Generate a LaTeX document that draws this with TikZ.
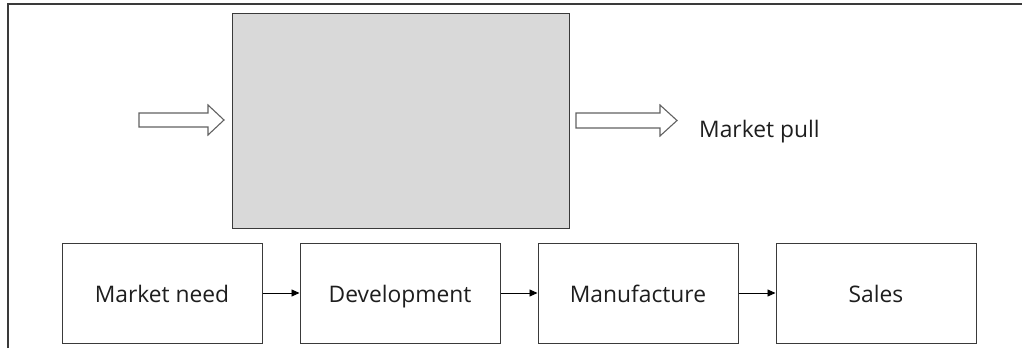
\documentclass[tikz,border=0pt]{standalone}
\usepackage{fontspec}
\setmainfont{Open Sans}
\usetikzlibrary{arrows.meta}
\definecolor{ink}{HTML}{1E1E1E}
\definecolor{edge}{HTML}{3A3A3A}
\definecolor{panel}{HTML}{D9D9D9}
\begin{document}
\begin{tikzpicture}[x=1pt,y=-1pt,
  stagebox/.style={draw=edge,line width=1pt,fill=white,minimum width=200pt,minimum height=100pt,
    inner sep=0pt,text height=22pt,text depth=4pt,text=ink,font=\fontsize{22.8}{26}\selectfont},
  flow/.style={draw=black,line width=0.9pt,-{Triangle[length=8pt,width=7pt]}},
  blockarrow/.style={draw=edge!80,line width=1.1pt,fill=white,line join=miter}]
\useasboundingbox (0,0) rectangle (1022,348);
% frame lines
\draw[edge,line width=1.3pt] (8,348) -- (8,4) -- (1022,4);
% central shaded panel
\node[draw=edge,line width=1pt,fill=panel,minimum width=337pt,minimum height=215.5pt,inner sep=0pt,anchor=north west]
  (panel) at (232,12.5) {};
% block arrows into and out of the panel
\draw[blockarrow] (139,113) -- (208,113) -- (208,105) -- (224,120) -- (208,135) -- (208,127) -- (139,127) -- cycle;
\draw[blockarrow] (576,113) -- (660,113) -- (660,105) -- (677,120.5) -- (660,136) -- (660,128) -- (576,128) -- cycle;
\node[anchor=base west,inner sep=0pt,text=ink,font=\fontsize{22.8}{26}\selectfont] (pull) at (699,137) {Market pull};
% process chain
\node[stagebox] (need) at (162,293) {Market need};
\node[stagebox] (dev)  at (400,293) {Development};
\node[stagebox] (man)  at (638,293) {Manufacture};
\node[stagebox] (sales) at (876,293) {Sales};
\draw[flow] (need) -- (dev);
\draw[flow] (dev) -- (man);
\draw[flow] (man) -- (sales);
\end{tikzpicture}
\end{document}
